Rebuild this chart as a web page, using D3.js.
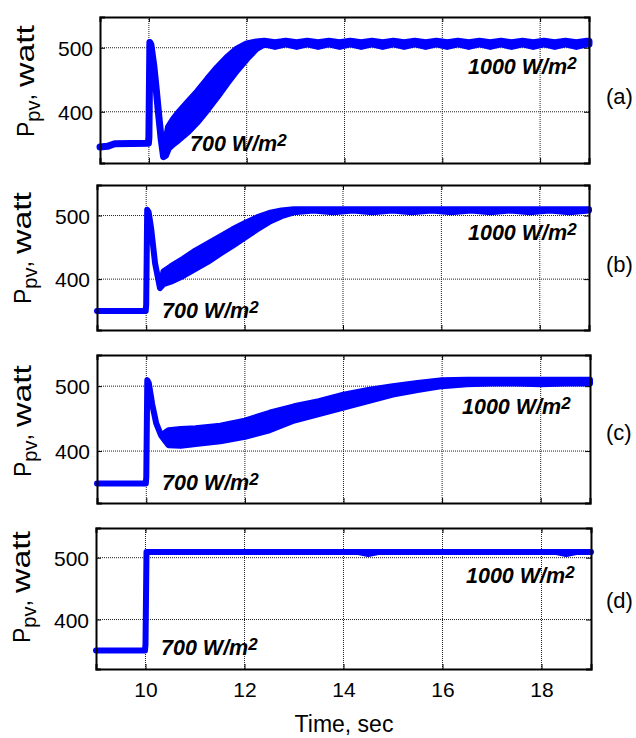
<!DOCTYPE html>
<html>
<head>
<meta charset="utf-8">
<script src="https://cdn.jsdelivr.net/npm/d3@7/dist/d3.min.js"></script>
<style>
  html, body { margin: 0; padding: 0; background: #fff; }
  svg { display: block; }
  text { font-family: "Liberation Sans", Arial, sans-serif; fill: #000; }
</style>
</head>
<body>
<svg id="chart" width="636" height="738"></svg>
<script>
// ---------------- data ----------------
const xTicks = [10, 12, 14, 16, 18];
const yTicks = [400, 500];
const xDomain = [9, 19];
const yDomain = [320, 548];
const panelLabels = ["(a)", "(b)", "(c)", "(d)"];
const lowIrr = "700 W/m";
const highIrr = "1000 W/m";
const xTitle = "Time, sec";

// panel (a): time, lower and upper edge of the P_pv trace (W)
const tA  = [9.0, 9.15, 9.3, 9.99, 10.0, 10.02, 10.04, 10.1, 10.15, 10.2, 10.25, 10.3, 10.34, 10.4, 10.5, 10.6, 10.8, 11.0, 11.2, 11.4, 11.6, 11.8, 12.0, 12.2, 12.36,
             12.58, 12.80, 13.02, 13.24, 13.46, 13.68, 13.90, 14.12, 14.34, 14.56, 14.78, 15.00, 15.22, 15.44, 15.66, 15.88, 16.10, 16.32, 16.54, 16.76, 16.98, 17.20, 17.42, 17.64, 17.86, 18.08, 18.30, 18.52, 18.74, 18.96, 19.0];
const loA = [345, 346, 350, 351, 360, 508, 505, 472, 435, 395, 358, 330, 332, 343, 350, 356, 369, 385, 404, 424, 445, 465, 483, 499, 506,
             502, 506, 502, 506, 502, 506, 502, 506, 502, 506, 502, 506, 502, 506, 502, 506, 502, 506, 502, 506, 502, 506, 502, 506, 502, 506, 502, 506, 502, 506, 506];
const hiA = [345, 346, 350, 351, 360, 508, 505, 472, 435, 395, 358, 330, 350, 376, 388, 398, 415, 432, 451, 469, 485, 498, 506, 509, 510,
             508, 510, 508, 510, 508, 510, 508, 510, 508, 510, 508, 510, 508, 510, 508, 510, 508, 510, 508, 510, 508, 510, 508, 510, 508, 510, 508, 510, 508, 510, 510];

// panel (b)
const tB  = [9.0, 9.99, 10.0, 10.02, 10.05, 10.1, 10.18, 10.28, 10.35, 10.5, 10.75, 11.0, 11.25, 11.5, 11.75, 12.0, 12.25, 12.5, 12.75, 13.0,
             13.4, 13.8, 14.2, 14.6, 15.0, 15.4, 15.8, 16.2, 16.6, 17.0, 17.4, 17.8, 18.2, 18.6, 19.0];
const loB = [350, 350, 360, 509, 505, 480, 425, 386, 392, 396, 405, 416, 427, 440, 452, 465, 478, 490, 499, 505,
             508, 505, 508, 505, 508, 505, 508, 505, 508, 505, 508, 505, 508, 505, 508];
const hiB = [350, 350, 360, 509, 505, 480, 425, 386, 412, 420, 432, 445, 456, 467, 478, 488, 497, 504, 508, 510,
             510, 510, 510, 510, 510, 510, 510, 510, 510, 510, 510, 510, 510, 510, 510];

// panel (c)
const tC  = [9.0, 9.99, 10.0, 10.02, 10.05, 10.12, 10.2, 10.3, 10.45, 10.7, 11.0, 11.5, 12.0, 12.5, 13.0, 13.5, 14.0, 14.5, 15.0, 15.5, 16.0, 16.5, 17.0, 17.5, 18.0, 18.5, 19.0];
const loC = [350, 350, 360, 509, 505, 472, 443, 424, 409, 408, 411, 415, 422, 432, 447, 457, 467, 477, 487, 494, 500, 503, 504, 504, 503, 504, 504];
const hiC = [350, 350, 360, 509, 505, 472, 443, 424, 432, 434, 435, 439, 447, 459, 469, 477, 487, 494, 500, 505, 509, 510, 510, 510, 510, 510, 510];

// panel (d)
const tD  = [9.0, 9.99, 10.0, 10.02, 14.3, 14.5, 14.7, 18.3, 18.5, 18.7, 19.0];
const loD = [350, 350, 360, 509, 509, 506, 509, 509, 506, 509, 509];
const hiD = [350, 350, 360, 509, 509, 509, 509, 509, 509, 509, 509];

// ---------------- layout ----------------
const svg = d3.select("#chart");
const blue = "#0000ff";
const panels = [
  { t: tA, lo: loA, hi: hiA, x0: 100, x1: 589, y0: 17,  y1: 163, sw: 7, lowX: 190, lowDy: 12, highX: 468, highDy: 57, labY: 104 },
  { t: tB, lo: loB, hi: hiB, x0: 97,  x1: 589, y0: 185, y1: 330, sw: 6, lowX: 162, lowDy: 12, highX: 468, highDy: 55, labY: 272 },
  { t: tC, lo: loC, hi: hiC, x0: 97,  x1: 590, y0: 355, y1: 503, sw: 6, lowX: 162, lowDy: 13, highX: 462, highDy: 59, labY: 440 },
  { t: tD, lo: loD, hi: hiD, x0: 96,  x1: 591, y0: 528, y1: 669, sw: 6, lowX: 161, lowDy: 14, highX: 466, highDy: 55, labY: 608 }
];

panels.forEach((p, i) => {
  const x = d3.scaleLinear().domain(xDomain).range([p.x0, p.x1]);
  const y = d3.scaleLinear().domain(yDomain).range([p.y1, p.y0]);
  const g = svg.append("g");

  // grid
  g.selectAll(".vg").data(xTicks).enter().append("line")
    .attr("x1", d => x(d)).attr("x2", d => x(d))
    .attr("y1", p.y0).attr("y2", p.y1)
    .attr("stroke", "#222").attr("stroke-width", 1).attr("stroke-dasharray", "1,1");
  g.selectAll(".hg").data(yTicks).enter().append("line")
    .attr("x1", p.x0).attr("x2", p.x1)
    .attr("y1", d => y(d)).attr("y2", d => y(d))
    .attr("stroke", "#222").attr("stroke-width", 1).attr("stroke-dasharray", "1,1");

  // trace
  const area = d3.area()
    .x((d, j) => x(p.t[j]))
    .y0((d, j) => y(p.lo[j]))
    .y1((d, j) => y(p.hi[j]));
  g.append("path").datum(p.t)
    .attr("d", area)
    .attr("fill", blue).attr("stroke", blue)
    .attr("stroke-width", p.sw).attr("stroke-linejoin", "round");

  // axes (inward ticks, box)
  const axB = d3.axisBottom(x).tickValues(xTicks).tickSize(-5).tickFormat(i === 3 ? d3.format("d") : "");
  const axT = d3.axisTop(x).tickValues(xTicks).tickSize(-5).tickFormat("");
  const axL = d3.axisLeft(y).tickValues(yTicks).tickSize(-5).tickFormat(d3.format("d"));
  const axR = d3.axisRight(y).tickValues(yTicks).tickSize(-5).tickFormat("");
  const gb = g.append("g").attr("transform", `translate(0,${p.y1})`).call(axB);
  const gt = g.append("g").attr("transform", `translate(0,${p.y0})`).call(axT);
  const gl = g.append("g").attr("transform", `translate(${p.x0},0)`).call(axL);
  const gr = g.append("g").attr("transform", `translate(${p.x1},0)`).call(axR);
  [gb, gt, gl, gr].forEach(a => {
    a.select(".domain").attr("stroke", "#000").attr("stroke-width", 2);
    a.selectAll(".tick line").attr("stroke", "#000").attr("stroke-width", 1);
    a.selectAll(".tick text").attr("font-family", "Liberation Sans, Arial, sans-serif")
      .attr("font-size", 21).attr("fill", "#000");
  });
  gl.selectAll(".tick text").attr("x", -7).attr("dy", "0.36em");
  gb.selectAll(".tick text").attr("y", 13).attr("dy", "0.71em");

  // y label: "P_pv, watt" (reads bottom to top)
  const bx = p.x0 - 66;
  const yl = g.append("text")
    .attr("transform", `translate(${bx},${p.y1 - 26}) rotate(-90)`)
    .attr("text-anchor", "start");
  yl.append("tspan").text("P").attr("font-size", 23);
  yl.append("tspan").text("pv").attr("font-size", 20).attr("dy", 6);
  yl.append("tspan").text(",").attr("font-size", 24).attr("dy", -6);
  g.append("text")
    .attr("transform", `translate(${bx},${p.y1 - 76}) rotate(-90)`)
    .attr("font-size", 25)
    .attr("textLength", 62).attr("lengthAdjust", "spacingAndGlyphs")
    .text("watt");

  // annotations
  const lt = g.append("text").attr("x", p.lowX).attr("y", p.y1 - p.lowDy)
    .attr("font-size", 21.5).attr("font-weight", "bold").attr("font-style", "italic");
  lt.append("tspan").text(lowIrr);
  lt.append("tspan").text("2").attr("font-size", 17).attr("dy", -5);
  const ht = g.append("text").attr("x", p.highX).attr("y", p.y0 + p.highDy)
    .attr("font-size", 21.5).attr("font-weight", "bold").attr("font-style", "italic");
  ht.append("tspan").text(highIrr);
  ht.append("tspan").text("2").attr("font-size", 17).attr("dy", -5);

  // panel label
  g.append("text").attr("x", 606).attr("y", p.labY).attr("font-size", 22).text(panelLabels[i]);
});

svg.append("text").attr("x", 344).attr("y", 732).attr("text-anchor", "middle")
  .attr("font-size", 23).text(xTitle);
</script>
</body>
</html>
